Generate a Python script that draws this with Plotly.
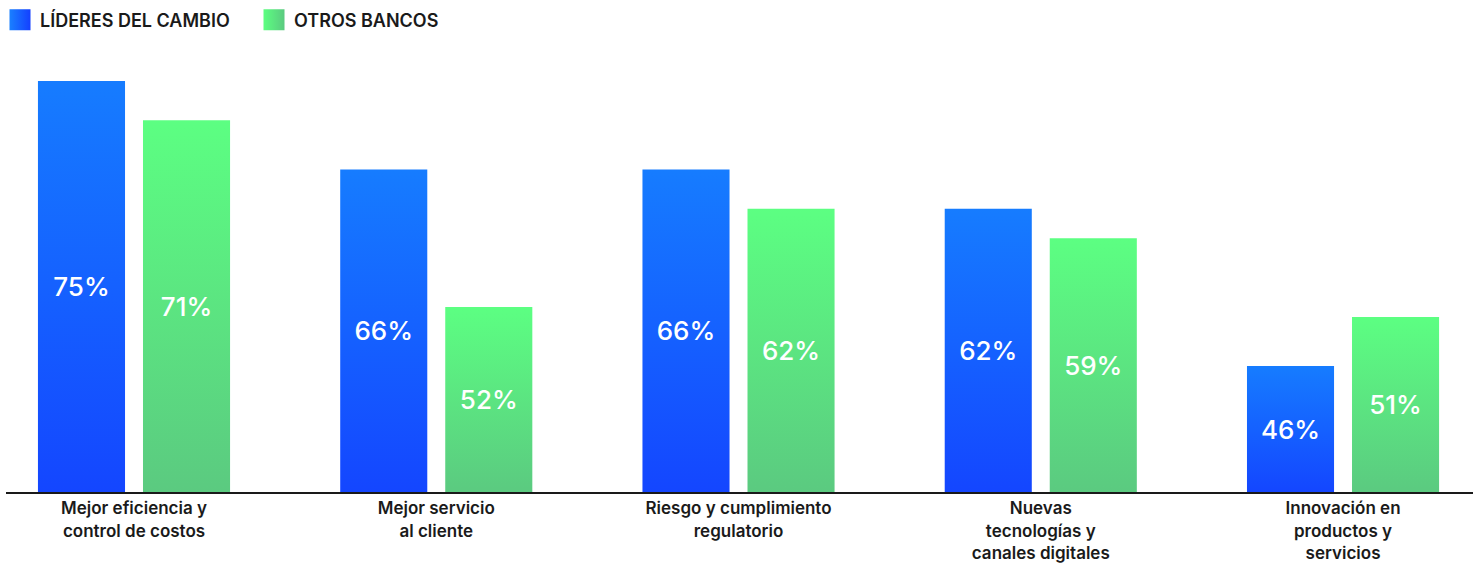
import plotly.graph_objects as go

# Prioridades estratégicas: porcentaje de bancos por grupo
categorias = [
    "Mejor eficiencia y<br>control de costos",
    "Mejor servicio<br>al cliente",
    "Riesgo y cumplimiento<br>regulatorio",
    "Nuevas<br>tecnologías y<br>canales digitales",
    "Innovación en<br>productos y<br>servicios",
]
lideres_del_cambio = [75, 66, 66, 62, 46]
otros_bancos = [71, 52, 62, 59, 51]

# El eje vertical no arranca en cero
EJE_MIN, EJE_MAX = 33.19, 78.15

AZUL = "#1662ff"
VERDE = "#5ce680"
FUENTE = "Inter, 'Noto Sans', sans-serif"


def barra(nombre, valores, color):
    # Cada barra parte del mínimo del eje y termina en su valor
    return go.Bar(
        name=nombre, x=categorias,
        y=[v - EJE_MIN for v in valores], base=[EJE_MIN] * len(valores),
        customdata=valores,
        marker=dict(color=color, line=dict(width=0)),
        texttemplate="%{customdata}%", textposition="inside",
        insidetextanchor="middle", textangle=0,
        textfont=dict(color="white", size=26, family=FUENTE, weight=500),
        hoverinfo="skip",
    )


fig = go.Figure()
fig.add_trace(barra("LÍDERES DEL CAMBIO", lideres_del_cambio, AZUL))
fig.add_trace(barra("OTROS BANCOS", otros_bancos, VERDE))

fig.update_layout(
    width=1482, height=564,
    margin=dict(l=6, r=9, t=50, b=72),
    paper_bgcolor="white", plot_bgcolor="white",
    barmode="group", bargap=0.305, bargroupgap=0.171,
    font=dict(family=FUENTE, color="#1a1a1a", size=17),
    showlegend=True,
    legend=dict(
        orientation="h", x=-0.0082, xanchor="left", y=0.9973, yanchor="top",
        yref="container", font=dict(size=18, family=FUENTE, weight=600),
        entrywidth=209, entrywidthmode="pixels", traceorder="normal",
        bgcolor="rgba(0,0,0,0)",
    ),
    xaxis=dict(
        type="category", range=[-0.4235, 4.430], automargin=False,
        showline=True, linecolor="#1a1a1a", linewidth=2,
        ticks="", showgrid=False, zeroline=False,
        tickfont=dict(size=17, family=FUENTE, color="#1a1a1a", weight=600),
    ),
    yaxis=dict(
        range=[EJE_MIN, EJE_MAX], visible=False, showgrid=False,
        zeroline=False, automargin=False,
    ),
)

# Degradados verticales en las barras y horizontales en la leyenda
post = """
(function(){
  var gd = document.getElementById('{plot_id}');
  var svg = gd.querySelector('svg.main-svg');
  var defs = svg.querySelector('defs');
  var NS = 'http://www.w3.org/2000/svg';
  function grad(id, c1, c2, horiz){
    var g = document.createElementNS(NS, 'linearGradient');
    g.setAttribute('id', id);
    g.setAttribute('x1', '0'); g.setAttribute('y1', '0');
    g.setAttribute('x2', horiz ? '1' : '0'); g.setAttribute('y2', horiz ? '0' : '1');
    [[0, c1], [1, c2]].forEach(function(s){
      var st = document.createElementNS(NS, 'stop');
      st.setAttribute('offset', s[0]);
      st.setAttribute('stop-color', s[1]);
      g.appendChild(st);
    });
    defs.appendChild(g);
  }
  grad('gAzulV', '#167cff', '#1446ff', false);
  grad('gVerdeV', '#5cff82', '#5bca80', false);
  grad('gAzulH', '#1a80ff', '#1440ff', true);
  grad('gVerdeH', '#5cff80', '#5bca80', true);
  var ids = [['gAzulV', 'gAzulH'], ['gVerdeV', 'gVerdeH']];
  gd.querySelectorAll('.barlayer .trace').forEach(function(t, i){
    t.querySelectorAll('.point path').forEach(function(p){
      p.style.fill = 'url(#' + ids[i][0] + ')';
    });
  });
  gd.querySelectorAll('.legend .traces').forEach(function(t, i){
    t.querySelectorAll('.legendpoints path').forEach(function(p){
      p.setAttribute('d', 'M10.5,10.5H-10.5V-10.5H10.5Z');
      p.style.fill = 'url(#' + ids[i][1] + ')';
      p.style.stroke = 'none';
    });
  });
})();
"""

fig.write_html("out.html", config={"displayModeBar": False}, post_script=post)
